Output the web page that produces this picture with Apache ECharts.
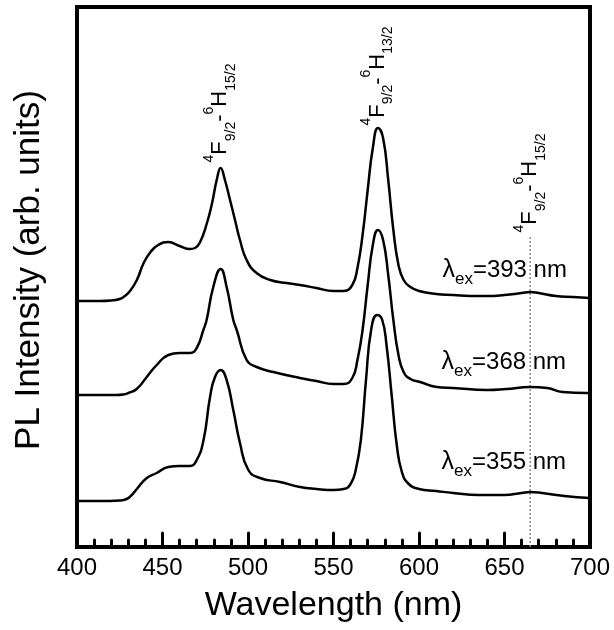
<!DOCTYPE html>
<html><head><meta charset="utf-8">
<script src="https://cdn.jsdelivr.net/npm/echarts@6/dist/echarts.min.js"></script>
<style>html,body{margin:0;padding:0;background:#fff}#c{width:614px;height:630px}</style>
</head><body><div id="c"></div>
<script>
// ---- data (wavelength in nm, intensity in arb. units, curves already offset) ----
const wlA = [400,413.5,420,425,428,431,435,439,443,447.5,453.4,460,466,469,472,476,479,481.7,484,486.5,489.5,492.4,495.3,499.2,505,513,522.6,530.4,540,550,556,561,564,567,570,573,576,579,582,585,588,591,595,600,610,620,630,640,650,660,665,670,680,690,700];
const intA = [246,246,246.5,248,251,256,267,284,295,302,305,301,298,299,305,324,344,367,379,367,347,327,307,287,274,267,264,262,259,256,256,262,279,312,357,399,419,409,367,317,282,267,260,256,253,252,251,251,252,254,255,254,251,250,249];

const wlB = [400,413.5,423,427,430,434.9,440.8,446.6,453.4,460,466.1,470,473.9,475.8,479.7,484,487.5,491.4,493.4,499.2,505.1,514.8,530.4,540,550,556,561,564,567,570,573,576,579,582,585,588,591,595,600.6,610.4,620,640,651,665,675,684,698,700];
const intB = [152,152,152,152.5,154,158,170,182,192,194,194,199,217,227,260,278,260,227,217,187,180,175,169,166,163,163,169,187,217,262,302,317,307,272,227,192,175,168,165,160,159,157,158,160,159,155,154,154];

const wlC = [400,413.5,425,429,432,435,440.8,446.6,453.4,460,466,470,474,477.8,480.7,484,487.5,491.4,495.3,500.2,507,518.7,530.4,540,550,556,560,563,566,569,572,575.5,578.5,581,584,587,590,594,600,610,620,635,650,660,665,672,685,700];
const intC = [46,46,46.5,48,52,58,69,74,80,81,81,87,107,150,170,177,167,137,104,77,69,65,60,58,57,58,63,77,107,167,217,232,227,202,152,102,75,63,58,56,54,52,52,54,55,54,51,49];

const seriesNames = ['393 nm','368 nm','355 nm'];
const exLabels = ['=393 nm','=368 nm','=355 nm'];
const exLabelPos = [[614,276],[613.5,184],[613.5,84]];   // [nm, intensity]

const transitions = [
  {wl:484, y:384, sub1:'9/2', sub2:'15/2'},
  {wl:576, y:421, sub1:'9/2', sub2:'13/2'},
  {wl:665, y:314, sub1:'9/2', sub2:'15/2'}
];
const dropWl = 665, dropTop = 312, dropBottom = 0;

const xTicks = [400,450,500,550,600,650,700];
const xMin = 400, xMax = 700, xStep = 50;
const yMin = 0, yMax = 540;

// ---- chart ----
const FONT = 'Liberation Sans, Arial, sans-serif';
const chart = echarts.init(document.getElementById('c'), null, {renderer:'canvas'});

function pairs(xs, ys){ return xs.map((x,i)=>[x, ys[i]]); }

const richT = {
  m:{fontSize:22, fontFamily:FONT, color:'#000', lineHeight:36, verticalAlign:'middle'},
  sp:{fontSize:14, fontFamily:FONT, color:'#000', lineHeight:16, verticalAlign:'top'},
  sb:{fontSize:14, fontFamily:FONT, color:'#000', lineHeight:16, verticalAlign:'bottom'}
};
const richL = {
  l:{fontSize:25, fontFamily:FONT, color:'#000', lineHeight:34, verticalAlign:'middle'},
  s:{fontSize:17, fontFamily:FONT, color:'#000', lineHeight:17, verticalAlign:'bottom'},
  m:{fontSize:24, fontFamily:FONT, color:'#000', lineHeight:34, verticalAlign:'middle'}
};

const curves = [[wlA,intA],[wlB,intB],[wlC,intC]];
const series = curves.map((c,i)=>({
  name: seriesNames[i],
  type:'line',
  data: pairs(c[0], c[1]),
  showSymbol:false,
  smooth:0.5,
  lineStyle:{color:'#000', width:2.5},
  silent:true,
  animation:false,
  markPoint:{
    symbol:'circle', symbolSize:1, itemStyle:{color:'transparent'},
    animation:false,
    data:[{
      coord: exLabelPos[i],
      label:{show:true, position:[0,0], align:'left', verticalAlign:'middle',
        formatter:'{l|λ}{s|ex}{m|'+exLabels[i]+'}', rich:richL}
    }]
  }
}));

series.push({
  type:'line', data:[[dropWl,dropBottom],[dropWl,dropTop]], showSymbol:false,
  lineStyle:{color:'#888', width:1.5, type:[2,2]}, silent:true, animation:false, z:1,
  markPoint:{
    symbol:'circle', symbolSize:1, itemStyle:{color:'transparent'}, animation:false,
    data: transitions.map(t=>({
      coord:[t.wl, t.y],
      label:{show:true, position:[0,0], align:'left', verticalAlign:'middle', rotate:90,
        formatter:'{sp|4}{m|F}{sb|'+t.sub1+'}{m|-}{sp|6}{m|H}{sb|'+t.sub2+'}', rich:richT}
    }))
  }
});

chart.setOption({
  backgroundColor:'#fff',
  animation:false,
  grid:{left:77, right:24, top:7, bottom:83, show:true, borderColor:'#000', borderWidth:4, backgroundColor:'transparent'},
  xAxis:{
    type:'value', min:xMin, max:xMax, interval:xStep,
    name:'Wavelength (nm)', nameLocation:'middle', nameGap:42,
    nameTextStyle:{fontSize:34, fontFamily:FONT, color:'#000'},
    axisLine:{show:false},
    axisTick:{show:true, inside:true, length:14, lineStyle:{color:'#000', width:3, cap:'round'}},
    minorTick:{show:true, splitNumber:5, length:7, lineStyle:{color:'#000', width:3, cap:'round'}},
    axisLabel:{fontSize:24, fontFamily:FONT, color:'#000', margin:9,
      formatter:(v)=> xTicks.indexOf(v)>=0 ? String(v) : ''},
    splitLine:{show:false}
  },
  yAxis:{
    type:'value', min:yMin, max:yMax,
    name:'PL Intensity (arb. units)', nameLocation:'middle', nameGap:30,
    nameTextStyle:{fontSize:35, fontFamily:FONT, color:'#000', padding:[0,0,0,14]},
    axisLine:{show:false}, axisTick:{show:false}, axisLabel:{show:false}, splitLine:{show:false}
  },
  series: series
});
</script></body></html>
